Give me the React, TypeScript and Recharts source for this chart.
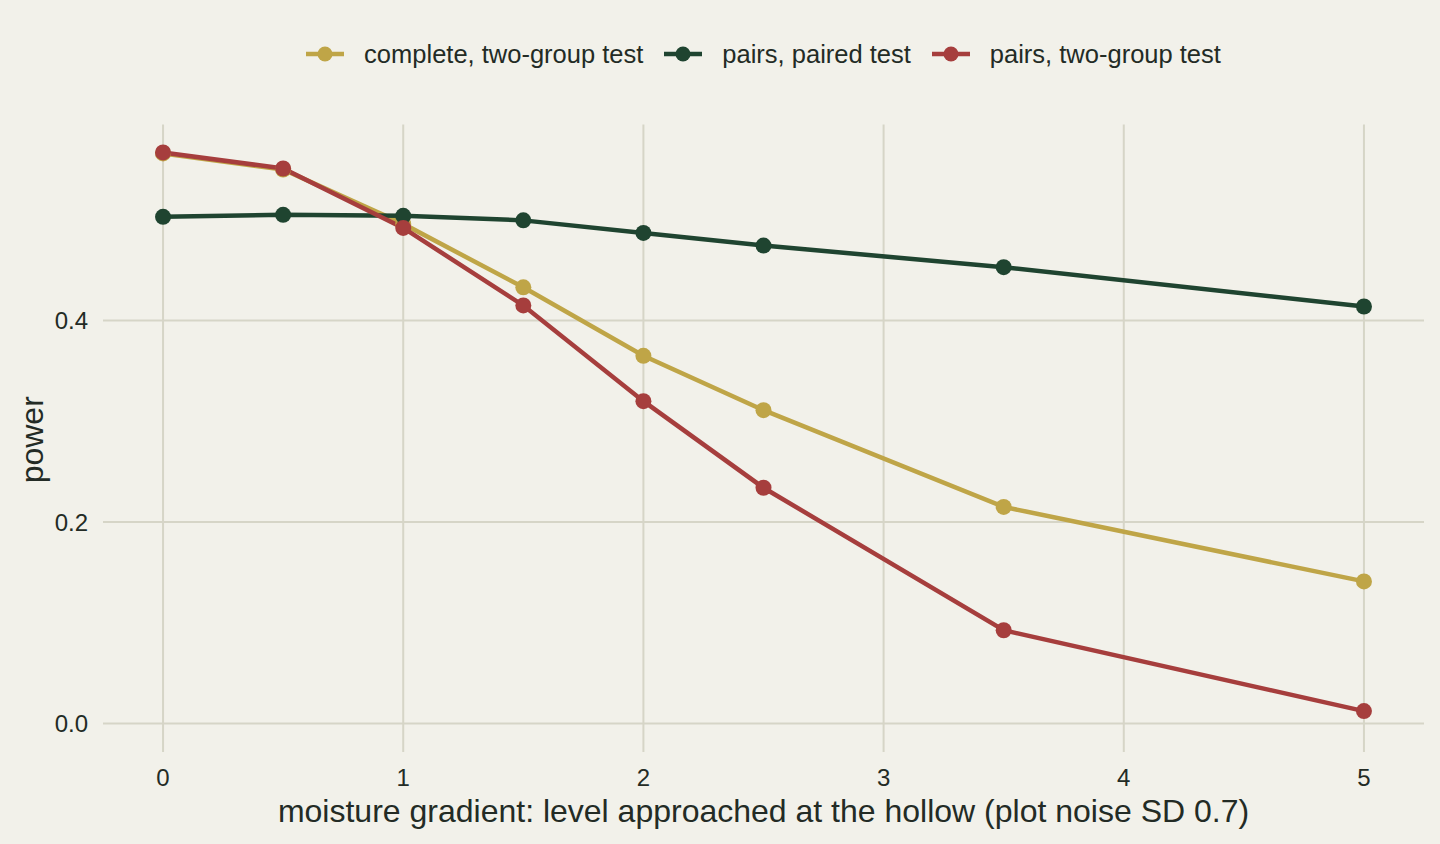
import { LineChart, Line, XAxis, YAxis, CartesianGrid, Label } from "recharts";

const gradientLevels = [0, 0.5, 1, 1.5, 2, 2.5, 3.5, 5];
const completeTwoGroup = [0.566, 0.55, 0.496, 0.433, 0.365, 0.311, 0.215, 0.141];
const pairsPaired = [0.503, 0.505, 0.504, 0.4995, 0.487, 0.4745, 0.453, 0.414];
const pairsTwoGroup = [0.567, 0.551, 0.492, 0.415, 0.32, 0.234, 0.0925, 0.0122];

const xTicks = [0, 1, 2, 3, 4, 5];
const yTicks = [0, 0.2, 0.4];

const seriesInfo = [
  { key: "complete", name: "complete, two-group test", color: "#BFA547" },
  { key: "paired", name: "pairs, paired test", color: "#1F4430" },
  { key: "twoGroup", name: "pairs, two-group test", color: "#A63E3D" },
];

const rows = gradientLevels.map((x, i) => ({
  x,
  complete: completeTwoGroup[i],
  paired: pairsPaired[i],
  twoGroup: pairsTwoGroup[i],
}));

const BG = "#F2F1EA";
const GRID = "#D6D5C7";
const INK = "#232B25";
const FONT = "'Liberation Sans', Arial, Helvetica, sans-serif";

const PowerLabel = ({ viewBox }: any) => {
  const cx = viewBox.x + 32;
  const cy = viewBox.y + viewBox.height / 2 + 8;
  return (
    <text
      x={cx}
      y={cy}
      transform={`rotate(-90, ${cx}, ${cy})`}
      textAnchor="middle"
      dominantBaseline="central"
      fill={INK}
      fontSize={32}
      fontFamily={FONT}
    >
      power
    </text>
  );
};

const App = () => {
  return (
    <div style={{ position: "absolute", left: 0, top: 0, width: 1440, height: 844, background: BG, fontFamily: FONT }}>
      {/* legend, centred over the panel */}
      <div
        style={{
          position: "absolute",
          left: 103,
          width: 1321,
          top: 38,
          height: 32,
          display: "flex",
          justifyContent: "center",
          alignItems: "center",
          gap: 21,
          fontSize: 25.5,
          color: INK,
        }}
      >
        {seriesInfo.map((s) => (
          <div key={s.key} style={{ display: "flex", alignItems: "center", gap: 20 }}>
            <svg width={38} height={20}>
              <line x1={0} y1={10} x2={38} y2={10} stroke={s.color} strokeWidth={4.5} />
              <circle cx={19} cy={10} r={7.5} fill={s.color} />
            </svg>
            <span>{s.name}</span>
          </div>
        ))}
      </div>

      <LineChart width={1440} height={844} data={rows} margin={{ top: 124.5, right: 16, left: 0, bottom: 0 }}>
        <CartesianGrid stroke={GRID} strokeWidth={2} horizontalValues={yTicks} verticalValues={xTicks} />
        <XAxis
          dataKey="x"
          type="number"
          domain={[-0.25, 5.25]}
          ticks={xTicks}
          height={105}
          axisLine={false}
          tickLine={{ stroke: GRID, strokeWidth: 2 }}
          tickSize={13}
          tickMargin={17}
          tick={{ fill: INK, fontSize: 24, fontFamily: FONT }}
        >
          <Label
            value="moisture gradient: level approached at the hollow (plot noise SD 0.7)"
            position="insideBottom"
            offset={22}
            fill={INK}
            fontSize={32}
            fontFamily={FONT}
          />
        </XAxis>
        <YAxis
          type="number"
          domain={[-0.0155, 0.5947]}
          ticks={yTicks}
          width={103}
          axisLine={false}
          tickLine={false}
          tickSize={0}
          tickMargin={15}
          tickFormatter={(v: number) => v.toFixed(1)}
          tick={{ fill: INK, fontSize: 24, fontFamily: FONT }}
        >
          <Label content={<PowerLabel />} />
        </YAxis>
        {seriesInfo.map((s) => (
          <Line
            key={s.key}
            type="linear"
            dataKey={s.key}
            name={s.name}
            stroke={s.color}
            strokeWidth={4.5}
            dot={{ r: 8, fill: s.color, stroke: "none" }}
            activeDot={false}
            isAnimationActive={false}
          />
        ))}
      </LineChart>
    </div>
  );
};

export default App;
